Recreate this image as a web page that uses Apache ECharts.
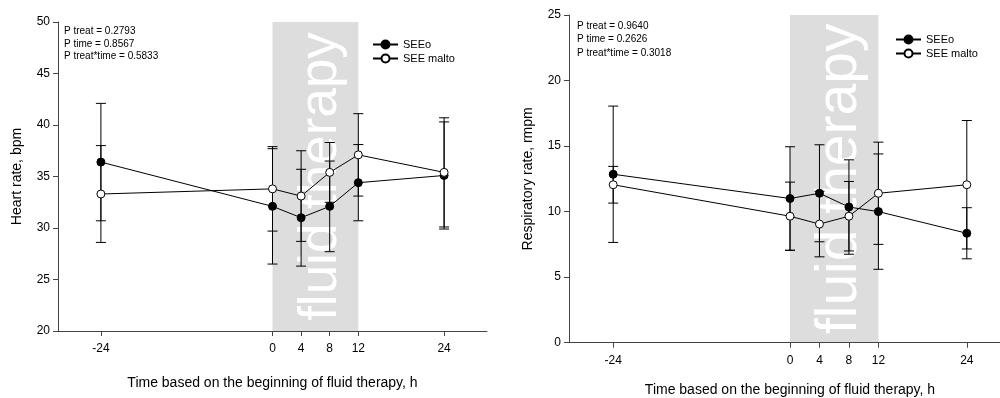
<!DOCTYPE html>
<html>
<head>
<meta charset="utf-8">
<script src="https://cdn.jsdelivr.net/npm/echarts@6/dist/echarts.min.js"></script>
<style>
  html, body { margin: 0; padding: 0; background: #fff; }
  #chart { width: 1000px; height: 398px; }
</style>
</head>
<body>
<div id="chart"></div>
<script>
// time points (h from start of fluid therapy)
const hours = [-24, 0, 4, 8, 12, 24];
const tickHours = [-24, 0, 4, 8, 12, 24];
const therapyWindow = [0, 12];

// heart rate, bpm (mean, sd)
const hrSEEo = [36.4, 32.1, 31.0, 32.1, 34.4, 35.1];
const hrSEEoSd = [5.7, 5.6, 4.7, 4.4, 3.7, 5.2];
const hrMalto = [33.3, 33.8, 33.1, 35.4, 37.1, 35.4];
const hrMaltoSd = [4.7, 4.1, 4.4, 2.9, 4.0, 5.3];

// respiratory rate, rmpm (mean, sd)
const rrSEEo = [12.85, 11.0, 11.4, 10.35, 10.0, 8.35];
const rrSEEoSd = [5.2, 3.95, 3.7, 3.6, 4.4, 1.95];
const rrMalto = [12.05, 9.65, 9.05, 9.65, 11.4, 12.05];
const rrMaltoSd = [1.4, 2.6, 2.5, 2.65, 3.9, 4.9];

const groupNames = ["SEEo", "SEE malto"];
const hrStats = ["P treat = 0.2793", "P time = 0.8567", "P treat*time = 0.5833"];
const rrStats = ["P treat = 0.9640", "P time = 0.2626", "P treat*time = 0.3018"];

const FONT = "'Liberation Sans', Arial, sans-serif";

function pairs(ys) {
  return hours.map((h, i) => [h, ys[i]]);
}
function errData(ys, sd) {
  return hours.map((h, i) => [h, ys[i] - sd[i], ys[i] + sd[i]]);
}

function renderError(params, api) {
  const x = api.value(0);
  const lo = api.coord([x, api.value(1)]);
  const hi = api.coord([x, api.value(2)]);
  const w = 5;
  const st = { stroke: "#000", lineWidth: 1 };
  return {
    type: "group",
    children: [
      { type: "line", shape: { x1: lo[0], y1: lo[1], x2: hi[0], y2: hi[1] }, style: st },
      { type: "line", shape: { x1: hi[0] - w, y1: hi[1], x2: hi[0] + w, y2: hi[1] }, style: st },
      { type: "line", shape: { x1: lo[0] - w, y1: lo[1], x2: lo[0] + w, y2: lo[1] }, style: st }
    ]
  };
}

function bandRender(yMin, yMax, fontSize, dx) {
  return function(params, api) {
    const p1 = api.coord([api.value(0), yMax]);
    const p2 = api.coord([api.value(1), yMin]);
    const cx = (p1[0] + p2[0]) / 2 + dx;
    const cy = (p1[1] + p2[1]) / 2;
    return {
      type: "group",
      children: [
        {
          type: "rect",
          shape: { x: p1[0], y: p1[1], width: p2[0] - p1[0], height: p2[1] - p1[1] },
          style: { fill: "#dddddd" }
        },
        {
          type: "text",
          x: cx,
          y: cy,
          rotation: Math.PI / 2,
          style: {
            text: "fluid therapy",
            fill: "#fff",
            font: fontSize + "px " + FONT,
            align: "center",
            verticalAlign: "middle"
          }
        }
      ]
    };
  };
}

function xAxisOf(gridIndex, gap) {
  return {
    type: "value",
    gridIndex: gridIndex,
    min: -30,
    max: 30,
    splitLine: { show: false },
    axisLine: { onZero: false, lineStyle: { color: "#444", width: 1 } },
    axisTick: { customValues: tickHours, length: 5, lineStyle: { color: "#444" } },
    axisLabel: { customValues: tickHours, margin: 12, color: "#000", fontSize: 12, fontFamily: FONT },
    name: "Time based on the beginning of fluid therapy, h",
    nameLocation: "middle",
    nameGap: gap,
    nameTextStyle: { color: "#000", fontSize: 14, fontFamily: FONT }
  };
}

function yAxisOf(gridIndex, min, max, name) {
  return {
    type: "value",
    gridIndex: gridIndex,
    min: min,
    max: max,
    interval: 5,
    splitLine: { show: false },
    axisLine: { show: true, onZero: false, lineStyle: { color: "#444", width: 1 } },
    axisTick: { show: true, length: 5, lineStyle: { color: "#444" } },
    axisLabel: { margin: 8, color: "#000", fontSize: 12, fontFamily: FONT },
    name: name,
    nameLocation: "middle",
    nameGap: 34,
    nameTextStyle: { color: "#000", fontSize: 14, fontFamily: FONT }
  };
}

function lineSeries(idx, name, ys, filled) {
  return {
    type: "line",
    name: name,
    xAxisIndex: idx,
    yAxisIndex: idx,
    data: pairs(ys),
    symbol: "circle",
    symbolSize: 8,
    z: 4,
    lineStyle: { color: "#000", width: 1 },
    itemStyle: filled
      ? { color: "#000", borderColor: "#000", borderWidth: 1 }
      : { color: "#fff", borderColor: "#000", borderWidth: 1 },
    emphasis: { disabled: true }
  };
}

function errSeries(idx, ys, sd) {
  return {
    type: "custom",
    xAxisIndex: idx,
    yAxisIndex: idx,
    data: errData(ys, sd),
    encode: { x: 0, y: [1, 2] },
    renderItem: renderError,
    z: 2,
    silent: true
  };
}

function bandSeries(idx, yMin, yMax, fontSize, dx) {
  return {
    type: "custom",
    xAxisIndex: idx,
    yAxisIndex: idx,
    data: [therapyWindow],
    encode: { x: [0, 1] },
    renderItem: bandRender(yMin, yMax, fontSize, dx),
    z: 0,
    silent: true
  };
}

function statsText(lines, left, top, step) {
  return lines.map((t, i) => ({
    type: "text",
    left: left,
    top: top + i * step,
    style: { text: t, fill: "#000", font: "10px " + FONT }
  }));
}

function legendOf(left, top) {
  return {
    data: groupNames,
    orient: "vertical",
    left: left,
    top: top,
    itemWidth: 25,
    itemHeight: 10,
    itemGap: 3,
    textStyle: { color: "#000", fontSize: 11, fontFamily: FONT },
    selectedMode: false
  };
}

const chart = echarts.init(document.getElementById("chart"));
chart.setOption({
  animation: false,
  backgroundColor: "#fff",
  grid: [
    { left: 58, top: 22, width: 429, height: 309, outerBoundsMode: "none" },
    { left: 569, top: 15, width: 442, height: 327.7, outerBoundsMode: "none" }
  ],
  xAxis: [xAxisOf(0, 45), xAxisOf(1, 40)],
  yAxis: [
    yAxisOf(0, 20, 50, "Heart rate, bpm"),
    yAxisOf(1, 0, 25, "Respiratory rate, rmpm")
  ],
  legend: [legendOf(367, 34), legendOf(890, 29)],
  graphic: statsText(hrStats, 64, 26, 12.8).concat(statsText(rrStats, 577, 21, 13.5)),
  series: [
    bandSeries(0, 20, 50, 53, 6),
    errSeries(0, hrSEEo, hrSEEoSd),
    errSeries(0, hrMalto, hrMaltoSd),
    lineSeries(0, groupNames[0], hrSEEo, true),
    lineSeries(0, groupNames[1], hrMalto, false),
    bandSeries(1, 0, 25, 57, 6),
    errSeries(1, rrSEEo, rrSEEoSd),
    errSeries(1, rrMalto, rrMaltoSd),
    lineSeries(1, groupNames[0], rrSEEo, true),
    lineSeries(1, groupNames[1], rrMalto, false)
  ]
});
</script>
</body>
</html>
